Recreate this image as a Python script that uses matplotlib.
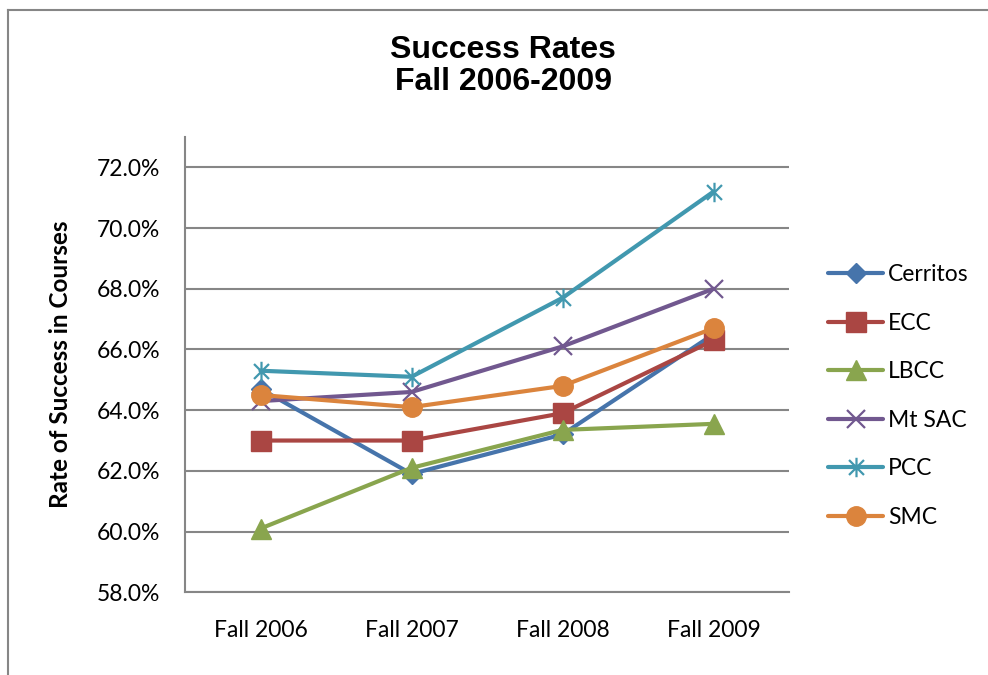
import matplotlib
matplotlib.use('Agg')
import matplotlib.pyplot as plt
from matplotlib.path import Path
from matplotlib.lines import Line2D

# 数据
terms = ['Fall 2006', 'Fall 2007', 'Fall 2008', 'Fall 2009']
colleges = ['Cerritos', 'ECC', 'LBCC', 'Mt SAC', 'PCC', 'SMC']
cerritos = [64.7, 61.9, 63.2, 66.5]
ecc = [63.0, 63.0, 63.9, 66.3]
lbcc = [60.1, 62.1, 63.35, 63.55]
mtsac = [64.3, 64.6, 66.1, 68.0]
pcc = [65.3, 65.1, 67.7, 71.2]
smc = [64.5, 64.1, 64.8, 66.7]
y_ticks = [58, 60, 62, 64, 66, 68, 70, 72]

# Excel 风格的星号标记（X 加一条竖线）
star = Path([(-1, -1), (1, 1), (-1, 1), (1, -1), (0, -1.3), (0, 1.3)],
            [Path.MOVETO, Path.LINETO, Path.MOVETO, Path.LINETO, Path.MOVETO, Path.LINETO])

series = [
    (cerritos, '#4674AB', 'D', 10, None),
    (ecc, '#AA4643', 's', 14, None),
    (lbcc, '#89A54E', '^', 14, None),
    (mtsac, '#71588F', 'x', 13, 1.6),
    (pcc, '#4198AF', star, 14, 1.6),
    (smc, '#DB843D', 'o', 14, None),
]

plt.rcParams['font.family'] = ['Lato', 'DejaVu Sans']

fig = plt.figure(figsize=(9.88, 6.75), dpi=100)
ax = fig.add_axes([185 / 988, 1 - 592.3 / 675, 604 / 988, (592.3 - 137) / 675])

x = list(range(len(terms)))
handles = []
for (vals, color, marker, ms, mew), name in zip(series, colleges):
    kw = dict(color=color, linewidth=3.0, marker=marker, markersize=ms,
              markerfacecolor=color, markeredgecolor=color, label=name,
              solid_capstyle='round', solid_joinstyle='round')
    if mew:
        kw['markeredgewidth'] = mew
    ln, = ax.plot(x, vals, **kw)
    handles.append(ln)

ax.set_xlim(-0.5, 3.5)
ax.set_ylim(58, 73)
ax.set_xticks(x)
ax.set_xticklabels(terms)
ax.set_yticks(y_ticks)
ax.set_yticklabels([f'{v:.1f}%' for v in y_ticks])
ax.tick_params(axis='both', length=0, labelsize=16.5, colors='black')
ax.tick_params(axis='y', pad=18)
ax.tick_params(axis='x', pad=20)
ax.grid(axis='y', color='#868686', linewidth=1.5)
ax.set_axisbelow(True)
for s in ['top', 'right']:
    ax.spines[s].set_visible(False)
for s in ['left', 'bottom']:
    ax.spines[s].set_color('#868686')
    ax.spines[s].set_linewidth(1.5)

fig.text(60 / 988, 1 - 364 / 675, 'Rate of Success in Courses', rotation=90,
         ha='center', va='center', fontsize=17.5, fontweight='bold')

fig.text(503 / 988, 1 - 66 / 675, 'Success Rates\nFall 2006-2009',
         ha='center', va='center', fontsize=23, fontweight='bold',
         family='Liberation Sans', linespacing=1.05)

fig.legend(handles=handles, loc='upper left',
           bbox_to_anchor=(819 / 988, 1 - 255 / 675),
           frameon=False, fontsize=16.5, handlelength=2.4, handletextpad=0.2,
           labelspacing=1.2, borderaxespad=0)

# 外框（左边和上边）
fig.add_artist(Line2D([8 / 988, 8 / 988], [0, 1 - 9.5 / 675], color='#868686', linewidth=1.5))
fig.add_artist(Line2D([8 / 988, 1], [1 - 9.5 / 675, 1 - 9.5 / 675], color='#868686', linewidth=1.5))

fig.savefig('out.png', dpi=100)
